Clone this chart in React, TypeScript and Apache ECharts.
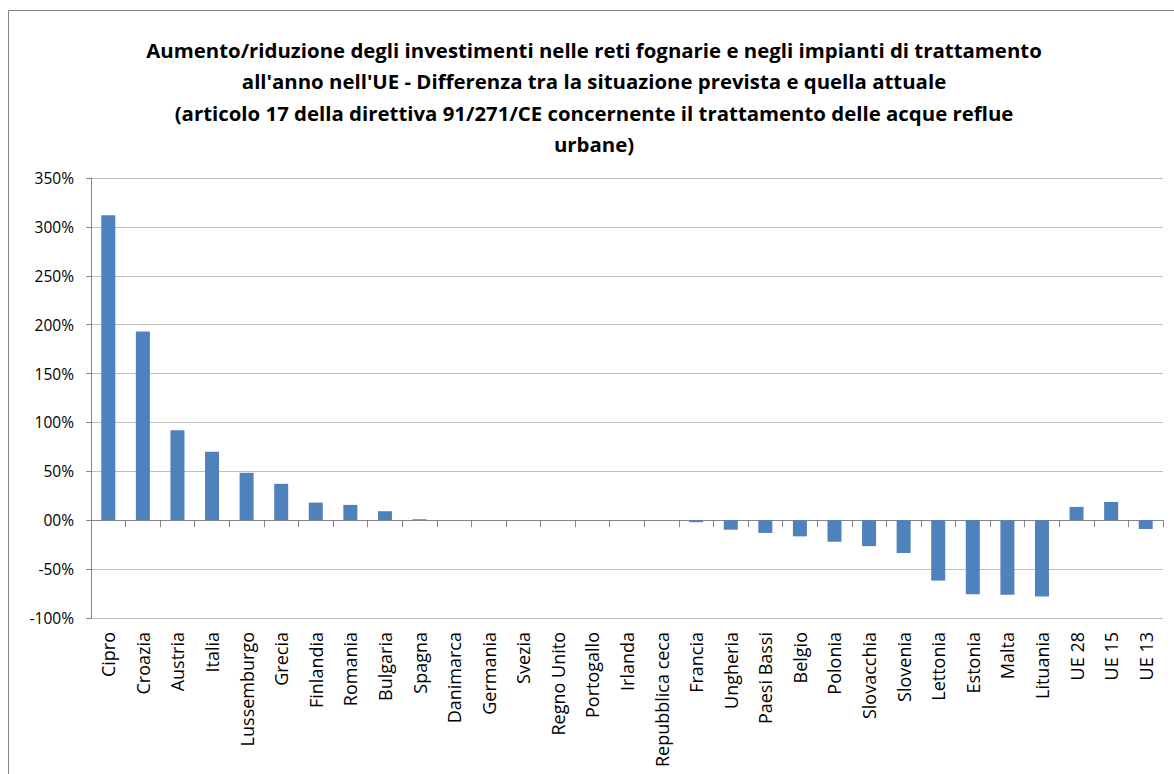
import React, { useEffect, useRef } from "react";
import * as echarts from "echarts";

const categories = [
  "Cipro", "Croazia", "Austria", "Italia", "Lussemburgo", "Grecia", "Finlandia", "Romania", "Bulgaria", "Spagna",
  "Danimarca", "Germania", "Svezia", "Regno Unito", "Portogallo", "Irlanda", "Repubblica ceca", "Francia", "Ungheria",
  "Paesi Bassi", "Belgio", "Polonia", "Slovacchia", "Slovenia", "Lettonia", "Estonia", "Malta", "Lituania",
  "UE 28", "UE 15", "UE 13",
];
const values = [
  3.12, 1.93, 0.92, 0.70, 0.485, 0.372, 0.18, 0.157, 0.092, 0.01,
  0, 0, 0, 0, 0, 0, 0, -0.02, -0.097,
  -0.13, -0.165, -0.22, -0.265, -0.335, -0.617, -0.756, -0.763, -0.779,
  0.136, 0.187, -0.09,
];
const titleLines = [
  "Aumento/riduzione degli investimenti nelle reti fognarie e negli impianti di trattamento",
  "all'anno nell'UE - Differenza tra la situazione prevista e quella attuale",
  "(articolo 17 della direttiva 91/271/CE concernente il trattamento delle acque reflue",
  "urbane)",
];
const yMin = -1;
const yMax = 3.5;
const yStep = 0.5;

function fmtPct(v: number): string {
  const p = Math.round(v * 100);
  const s = Math.abs(p).toString().padStart(2, "0");
  return (p < 0 ? "-" : "") + s + "%";
}

export default function App() {
  const ref = useRef<HTMLDivElement>(null);
  useEffect(() => {
    if (!ref.current) return;
    const chart = echarts.init(ref.current, undefined, { renderer: "svg" });
    const labelFont = "'Open Sans', sans-serif";
    chart.setOption({
      animation: false,
      backgroundColor: "#ffffff",
      title: {
        text: titleLines.join("\n"),
        left: 589,
        textAlign: "center",
        top: 29,
        textStyle: {
          fontFamily: "'Open Sans', sans-serif",
          fontWeight: "bold",
          fontSize: 20.4,
          lineHeight: 31.5,
          color: "#000000",
        },
      },
      graphic: [
        {
          type: "rect",
          shape: { x: 8.5, y: 10.5, width: 1200, height: 800 },
          style: { fill: "none", stroke: "#868686", lineWidth: 1 },
          silent: true,
        },
      ],
      grid: { left: 91, right: 11, top: 178, bottom: 156, containLabel: false },
      xAxis: [
        {
          type: "category",
          data: categories,
          position: "bottom",
          axisLine: { show: false, onZero: false },
          axisTick: { show: false },
          axisLabel: {
            rotate: 90,
            interval: 0,
            margin: 14,
            fontFamily: labelFont,
            fontSize: 18,
            color: "#000000",
          },
        },
        {
          type: "category",
          data: categories,
          position: "bottom",
          axisLine: { show: true, onZero: true, lineStyle: { color: "#868686", width: 1 } },
          axisTick: { show: true, length: 7, interval: 0, lineStyle: { color: "#868686" } },
          axisLabel: { show: false },
        },
      ],
      yAxis: {
        type: "value",
        min: yMin,
        max: yMax,
        interval: yStep,
        axisLine: { show: true, lineStyle: { color: "#868686" } },
        axisTick: { show: true, length: 5, lineStyle: { color: "#868686" } },
        splitLine: { show: true, lineStyle: { color: "#bfbfbf", width: 1 } },
        axisLabel: {
          margin: 17,
          fontFamily: labelFont,
          fontSize: 15.5,
          color: "#000000",
          formatter: (v: number) => fmtPct(v),
        },
      },
      series: [
        {
          type: "bar",
          data: values,
          xAxisIndex: 0,
          barWidth: 14,
          itemStyle: { color: "#4f81bd" },
        },
      ],
    });
    return () => chart.dispose();
  }, []);
  return (
    <div
      ref={ref}
      style={{ position: "fixed", left: 0, top: 0, width: 1174, height: 774 }}
    />
  );
}
